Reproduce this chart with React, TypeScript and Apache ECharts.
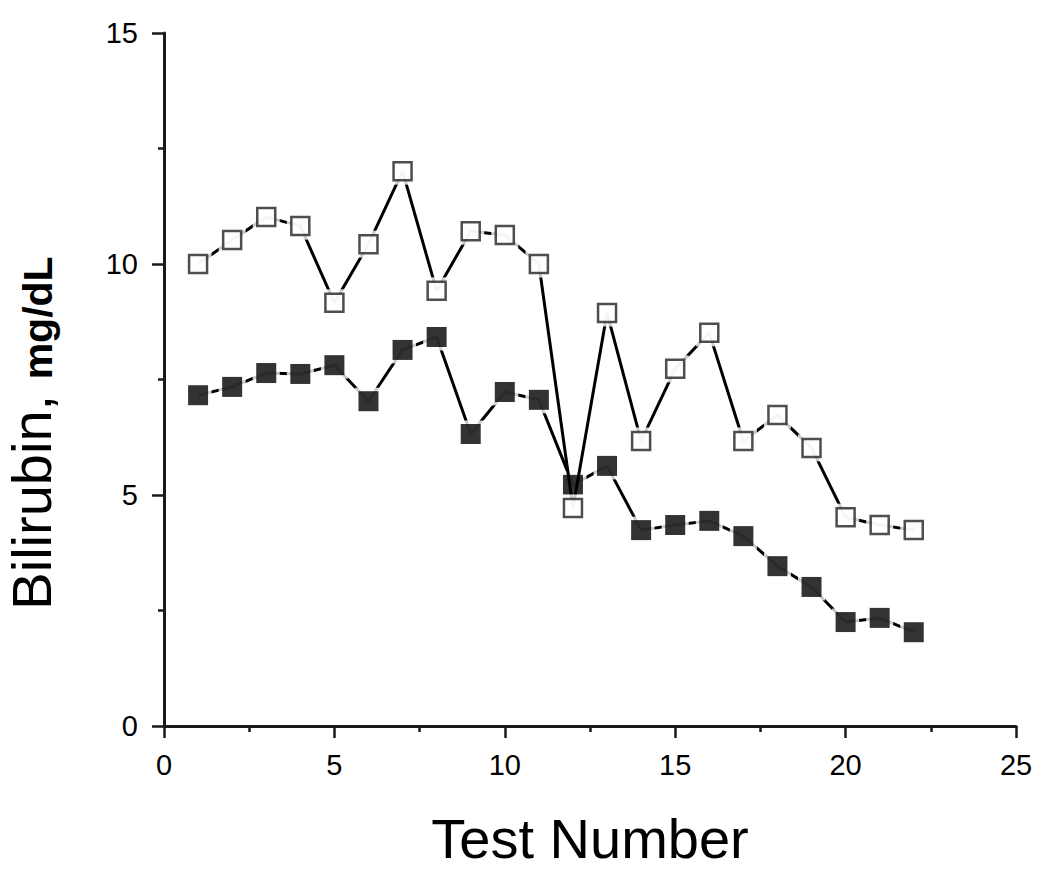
import React, { useEffect, useRef } from "react";
import * as echarts from "echarts";

const testNumbers = [1, 2, 3, 4, 5, 6, 7, 8, 9, 10, 11, 12, 13, 14, 15, 16, 17, 18, 19, 20, 21, 22];
const openValues = [10.0, 10.52, 11.02, 10.82, 9.16, 10.43, 12.01, 9.42, 10.71, 10.63, 10.0, 4.72, 8.94, 6.17, 7.73, 8.51, 6.17, 6.73, 6.02, 4.52, 4.35, 4.24];
const filledValues = [7.16, 7.34, 7.64, 7.62, 7.81, 7.03, 8.14, 8.42, 6.32, 7.23, 7.06, 5.22, 5.63, 4.24, 4.35, 4.44, 4.11, 3.46, 3.01, 2.25, 2.34, 2.03];

const xTitle = "Test Number";
const yTitleMain = "Bilirubin,";
const yTitleUnit = "mg/dL";

const FONT = "'Liberation Sans', Arial, sans-serif";

export default function App() {
  const ref = useRef<HTMLDivElement>(null);
  useEffect(() => {
    if (!ref.current) return;
    const chart = echarts.init(ref.current, undefined, { renderer: "svg" });
    const filled = testNumbers.map((x, i) => [x, filledValues[i]]);
    const open = testNumbers.map((x, i) => [x, openValues[i]]);
    const lineStyle = { color: "#000", width: 3 };
    chart.setOption({
      animation: false,
      backgroundColor: "#fff",
      grid: { left: 164, right: 34, top: 33, bottom: 146, containLabel: false },
      xAxis: {
        type: "value",
        min: 0,
        max: 25,
        interval: 5,
        name: xTitle,
        nameLocation: "middle",
        nameGap: 84,
        nameTextStyle: { fontFamily: FONT, fontSize: 56, color: "#000" },
        axisLine: { show: true, onZero: false, lineStyle: { color: "#1a1a1a", width: 3 } },
        axisTick: { show: true, length: 12, lineStyle: { color: "#1a1a1a", width: 2.5 } },
        minorTick: { show: true, splitNumber: 2, length: 6, lineStyle: { color: "#1a1a1a", width: 2.5 } },
        axisLabel: { fontFamily: FONT, fontSize: 29, color: "#000", margin: 24 },
        splitLine: { show: false },
      },
      yAxis: {
        type: "value",
        min: 0,
        max: 15,
        interval: 5,
        axisLine: { show: true, onZero: false, lineStyle: { color: "#1a1a1a", width: 3 } },
        axisTick: { show: true, length: 12, lineStyle: { color: "#1a1a1a", width: 2.5 } },
        minorTick: { show: true, splitNumber: 2, length: 6, lineStyle: { color: "#1a1a1a", width: 2.5 } },
        axisLabel: { fontFamily: FONT, fontSize: 29, color: "#000", margin: 26 },
        splitLine: { show: false },
      },
      graphic: [
        {
          type: "text",
          x: 31,
          y: 433,
          rotation: Math.PI / 2,
          style: {
            text: `{a|${yTitleMain} }{b|${yTitleUnit}}`,
            textAlign: "center",
            textVerticalAlign: "middle",
            fill: "#000",
            rich: {
              a: { fontFamily: FONT, fontSize: 56, fill: "#000", verticalAlign: "bottom" },
              b: {
                fontFamily: FONT,
                fontSize: 41,
                fontWeight: "bold",
                fill: "#000",
                verticalAlign: "bottom",
                padding: [0, 0, 1, 0],
              },
            },
          },
        },
      ],
      series: [
        { type: "line", data: filled, symbol: "none", lineStyle, z: 2, silent: true },
        { type: "scatter", data: filled, symbol: "rect", symbolSize: 27, itemStyle: { color: "#fff" }, z: 3, silent: true },
        { type: "scatter", data: filled, symbol: "rect", symbolSize: 20, itemStyle: { color: "#000" }, z: 4, silent: true },
        { type: "line", data: open, symbol: "none", lineStyle, z: 5, silent: true },
        { type: "scatter", data: open, symbol: "rect", symbolSize: 27, itemStyle: { color: "#fff" }, z: 6, silent: true },
        {
          type: "scatter",
          data: open,
          symbol: "rect",
          symbolSize: 18,
          itemStyle: { color: "#fff", borderColor: "#222", borderWidth: 2.5 },
          z: 7,
          silent: true,
        },
      ],
    });
    return () => chart.dispose();
  }, []);
  return <div ref={ref} style={{ position: "fixed", left: 0, top: 0, width: 1050, height: 872 }} />;
}
